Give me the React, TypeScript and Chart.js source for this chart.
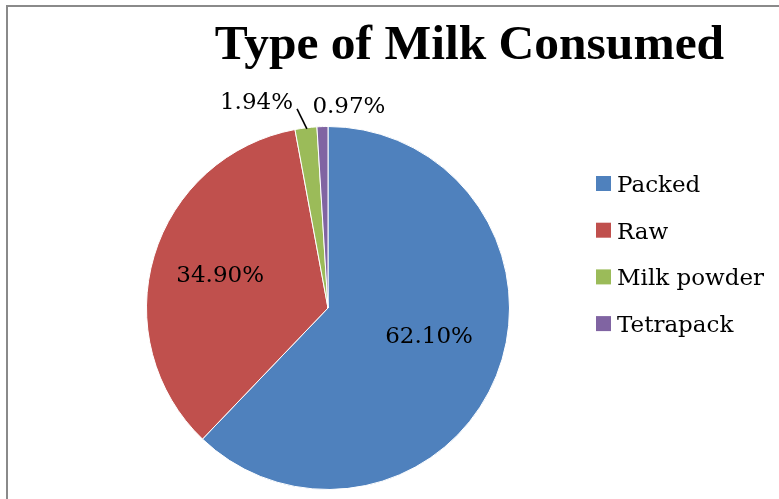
import React, { useEffect, useRef } from "react";
import { Chart, registerables } from "chart.js";

Chart.register(...registerables);

const TITLE = "Type of Milk Consumed";
const categories = ["Packed", "Raw", "Milk powder", "Tetrapack"];
const values = [62.1, 34.9, 1.94, 0.97];
const valueLabels = ["62.10%", "34.90%", "1.94%", "0.97%"];
const colors = ["#4F81BD", "#C0504D", "#9BBB59", "#8064A2"];

// label placement: radial fraction of radius, plus pixel nudge
const labelRadial = [0.6, 0.62, 1.2, 1.1];
const labelNudge = [
  [0, -12],
  [0, 0],
  [-45, 11],
  [27, -1],
];

const SERIF = "'DejaVu Serif', serif";

const overlayPlugin = {
  id: "overlay",
  afterDraw(chart: any) {
    const ctx = chart.ctx as CanvasRenderingContext2D;
    const meta = chart.getDatasetMeta(0);
    ctx.save();
    // title
    ctx.fillStyle = "#000";
    ctx.font = "bold 49.5px 'Liberation Serif', serif";
    ctx.textAlign = "center";
    ctx.textBaseline = "alphabetic";
    ctx.fillText(TITLE, 469.5, 59);

    // data labels
    ctx.font = "23px " + SERIF;
    ctx.textBaseline = "middle";
    meta.data.forEach((arc: any, i: number) => {
      const { x, y, startAngle, endAngle, outerRadius } = arc.getProps(
        ["x", "y", "startAngle", "endAngle", "outerRadius"],
        true
      );
      const mid = (startAngle + endAngle) / 2;
      const r = outerRadius * labelRadial[i];
      const lx = x + Math.cos(mid) * r + labelNudge[i][0];
      const ly = y + Math.sin(mid) * r + labelNudge[i][1];
      ctx.fillStyle = "#000";
      ctx.fillText(valueLabels[i], lx, ly);
      if (i === 2) {
        // leader line from arc edge to label
        const ex = x + Math.cos(mid) * outerRadius;
        const ey = y + Math.sin(mid) * outerRadius;
        const w = ctx.measureText(valueLabels[i]).width;
        ctx.strokeStyle = "#000";
        ctx.lineWidth = 1.6;
        ctx.beginPath();
        ctx.moveTo(ex + 1, ey + 1);
        ctx.lineTo(lx + w / 2 + 4, ly + 6);
        ctx.stroke();
      }
    });

    // legend
    const lx0 = 596;
    const ly0 = 183.5;
    const step = 46.7;
    ctx.textAlign = "left";
    ctx.textBaseline = "alphabetic";
    categories.forEach((c, i) => {
      const cy = ly0 + i * step;
      ctx.fillStyle = colors[i];
      ctx.fillRect(lx0, cy - 7.5, 15, 15);
      ctx.fillStyle = "#000";
      ctx.fillText(c, lx0 + 21, cy + 8.5);
    });
    ctx.restore();
  },
};

export default function App() {
  const ref = useRef<HTMLCanvasElement>(null);
  useEffect(() => {
    if (!ref.current) return;
    const chart = new Chart(ref.current, {
      type: "pie",
      data: {
        labels: categories,
        datasets: [
          {
            data: values,
            backgroundColor: colors,
            borderColor: "#ffffff",
            borderWidth: 1,
          },
        ],
      },
      options: {
        responsive: false,
        animation: false,
        events: [],
        layout: { padding: { left: 146, right: 269, top: 126, bottom: 9 } },
        plugins: {
          legend: { display: false },
          title: { display: false },
          tooltip: { enabled: false },
        },
      },
      plugins: [overlayPlugin],
    });
    return () => chart.destroy();
  }, []);
  return (
    <div
      style={{
        position: "fixed",
        left: 0,
        top: 0,
        width: 779,
        height: 499,
        background: "#fff",
        overflow: "hidden",
      }}
    >
      <canvas
        ref={ref}
        width={779}
        height={499}
        style={{ position: "absolute", left: 0, top: 0, width: 779, height: 499 }}
      />
      <div
        style={{
          position: "absolute",
          left: 6,
          top: 5,
          width: 900,
          height: 700,
          borderLeft: "2px solid #8a8a8a",
          borderTop: "2px solid #8a8a8a",
          pointerEvents: "none",
        }}
      />
    </div>
  );
}
